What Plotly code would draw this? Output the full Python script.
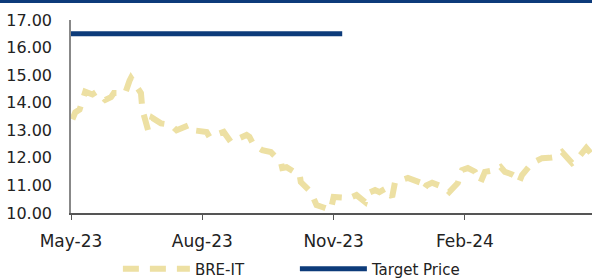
import plotly.graph_objects as go

dates = ["2023-05-02","2023-05-04","2023-05-07","2023-05-11","2023-05-16","2023-05-19","2023-05-25","2023-05-29",
         "2023-05-31","2023-06-08","2023-06-11","2023-06-12","2023-06-19","2023-06-20","2023-06-24","2023-06-27",
         "2023-07-03","2023-07-10","2023-07-14","2023-07-16","2023-07-23","2023-07-26","2023-08-04","2023-08-06",
         "2023-08-11","2023-08-16","2023-08-21","2023-08-27","2023-09-01","2023-09-03","2023-09-06","2023-09-12",
         "2023-09-18","2023-09-25","2023-09-26","2023-09-29","2023-10-04","2023-10-08","2023-10-09","2023-10-16",
         "2023-10-20","2023-10-25","2023-10-30","2023-11-01","2023-11-03","2023-11-07","2023-11-12","2023-11-17",
         "2023-11-23","2023-11-25","2023-11-30","2023-12-03","2023-12-08","2023-12-12","2023-12-14","2023-12-23",
         "2023-12-28","2024-01-01","2024-01-03","2024-01-05","2024-01-09","2024-01-18","2024-01-21","2024-01-27",
         "2024-01-30","2024-02-03","2024-02-08","2024-02-12","2024-02-15","2024-02-22","2024-02-26","2024-02-29",
         "2024-03-05","2024-03-08","2024-03-10","2024-03-12","2024-03-19","2024-03-26","2024-03-31","2024-04-04",
         "2024-04-09","2024-04-12","2024-04-16","2024-04-19","2024-04-23","2024-04-26","2024-04-29"]
bre_it = [13.40,13.65,13.75,14.40,14.30,14.40,14.10,14.20,
          14.35,14.35,14.80,14.90,14.35,13.75,13.00,13.45,
          13.25,13.20,13.00,13.05,13.20,13.00,12.94,12.76,
          12.85,12.94,12.58,12.70,12.83,12.76,12.47,12.28,
          12.21,11.85,11.63,11.66,11.50,11.45,11.12,10.76,
          10.29,10.20,10.11,10.58,10.58,10.54,10.54,10.65,
          10.40,10.72,10.83,10.76,10.90,10.58,11.12,11.27,
          11.20,11.10,10.85,11.00,11.10,10.91,10.76,11.09,
          11.56,11.63,11.50,11.12,11.49,11.56,11.67,11.49,
          11.40,11.31,11.12,11.38,11.81,11.99,12.00,12.03,
          12.21,12.00,11.81,11.92,12.18,12.36,12.18]

tp_dates = ["2023-05-01", "2023-11-07"]
target_price = [16.5, 16.5]

x_ticks = ["2023-05-01", "2023-08-01", "2023-11-01", "2024-02-01"]
y_ticks = [10, 11, 12, 13, 14, 15, 16, 17]

font_family = "DejaVu Sans"

fig = go.Figure()
fig.add_trace(go.Scatter(x=dates, y=bre_it, mode="lines", name="BRE-IT",
                         line=dict(color="#EDE0A3", width=6, dash="16px,11px")))
fig.add_trace(go.Scatter(x=tp_dates, y=target_price, mode="lines", name="Target Price",
                         line=dict(color="#0D3B7A", width=5)))

fig.update_layout(
    width=592, height=278,
    margin=dict(l=71, r=0, t=20, b=65, autoexpand=False),
    paper_bgcolor="white", plot_bgcolor="white",
    font=dict(family=font_family, size=15, color="#222222"),
    showlegend=True,
    legend=dict(orientation="h", x=0.09, xanchor="left", y=-0.29, yanchor="middle",
                entrywidth=95, entrywidthmode="pixels", itemwidth=67,
                font=dict(family=font_family, size=15, color="#222222"),
                bgcolor="rgba(0,0,0,0)"),
    xaxis=dict(type="date", range=["2023-05-01", "2024-04-30"], automargin=False,
               tickvals=x_ticks, tickformat="%b-%y",
               showgrid=False, zeroline=False,
               showline=True, linecolor="#555555", linewidth=1.5,
               ticks="outside", ticklen=5, tickcolor="#555555",
               ticklabelstandoff=7,
               tickfont=dict(size=17)),
    yaxis=dict(range=[10, 17], tickvals=y_ticks, tickformat=".2f", automargin=False,
               showgrid=False, zeroline=False,
               showline=True, linecolor="#888888", linewidth=1.5,
               ticks="", ticklabelstandoff=14,
               tickfont=dict(size=16)),
    shapes=[dict(type="line", xref="paper", yref="paper",
                 x0=-71/521, x1=1, y0=1 + 18.5/193, y1=1 + 18.5/193,
                 line=dict(color="#0D3B7A", width=3))],
)

fig.write_html("out.html", config={"displayModeBar": False},
               post_script="document.body.style.margin='0';document.body.style.overflow='hidden';")
